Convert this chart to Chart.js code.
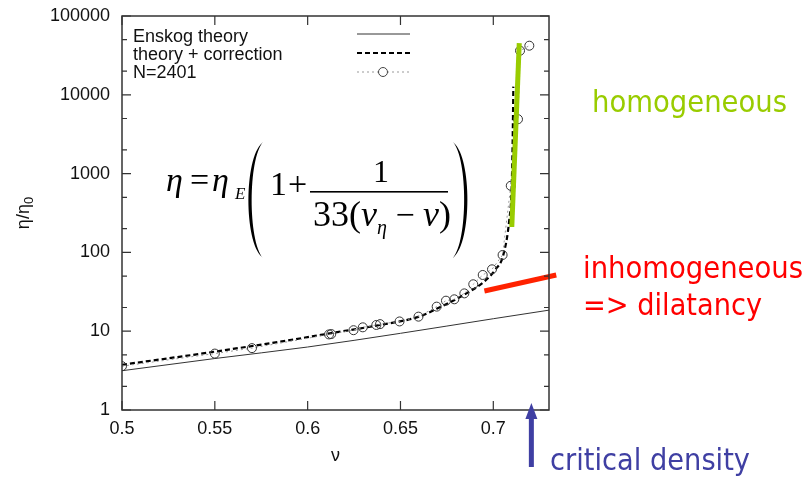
<!DOCTYPE html>
<html>
<head>
<meta charset="utf-8">
<script src="https://cdn.jsdelivr.net/npm/chart.js@4/dist/chart.umd.min.js"></script>
<style>
  body { margin: 0; background: #fff; }
</style>
</head>
<body>
<canvas id="visc" width="810" height="481"></canvas>
<script>
'use strict'

// Enskog theory
var nuEnskog  = [0.5, 0.55, 0.6, 0.65, 0.7, 0.73];
var etaEnskog = [3.15, 4.5, 6.3, 9.4, 14.4, 18.5];

// theory + correction
var nuCorr  = [0.5, 0.55, 0.6, 0.612, 0.639, 0.66, 0.67, 0.684, 0.695, 0.701, 0.7054, 0.7086, 0.7099, 0.7104, 0.7108];
var etaCorr = [3.75, 5.5, 8.4, 9.4, 12, 15.3, 19.5, 28.8, 42.5, 60, 93, 258, 682, 2400, 12700];

// N=2401 simulation
var nuSim  = [0.5, 0.55, 0.57, 0.6115, 0.6127, 0.6247, 0.6297, 0.637, 0.639, 0.6495, 0.6597, 0.6695,
              0.6745, 0.679, 0.6844, 0.6892, 0.6943, 0.6993, 0.705, 0.7094, 0.7133, 0.7144, 0.7194];
var etaSim = [3.6, 5.2, 6.1, 9.1, 9.2, 10.3, 11.2, 12.0, 12.3, 13.3, 15.3, 20.5,
              24.4, 25.4, 30.2, 39.4, 51.7, 61, 92.7, 700, 4900, 36300, 42000];

// hand-drawn guide lines
var nuHomog  = [0.70995, 0.71398];
var etaHomog = [210, 45400];
var nuInhom  = [0.6952, 0.7339];
var etaInhom = [32.4, 51.7];

var criticalDensity = 0.7205;

var xTicks = [0.5, 0.55, 0.6, 0.65, 0.7];
var yTicks = [1, 10, 100, 1000, 10000, 100000];
var yMinor = [2, 5, 20, 50, 200, 500, 2000, 5000, 20000, 50000];

function pts(xs, ys) {
  return xs.map(function (x, i) { return {x: x, y: ys[i]}; });
}

function fitText(ctx, text, x, y, width, color) {
  ctx.save();
  ctx.font = '30px "DejaVu Sans"';
  ctx.fillStyle = color;
  ctx.textAlign = 'left';
  ctx.textBaseline = 'alphabetic';
  var w = ctx.measureText(text).width;
  ctx.translate(x, y);
  ctx.scale(width / w, 1);
  ctx.fillText(text, 0, 0);
  ctx.restore();
}

function paren(ctx, x0, x1, top, bot) {
  // x0 = end of the curl, x1 = belly of the bracket
  var d = x0 < x1 ? -1 : 1;
  ctx.beginPath();
  ctx.moveTo(x0, top);
  ctx.bezierCurveTo(x1, top + 17, x1, bot - 17, x0, bot);
  ctx.lineTo(x0 - d, bot - 1);
  ctx.bezierCurveTo(x1 - 4 * d, bot - 17, x1 - 4 * d, top + 17, x0 - d, top + 1);
  ctx.closePath();
  ctx.fill();
}

var extras = {
  id: 'extras',
  afterDatasetsDraw: function (chart) {
    var ctx = chart.ctx;
    var a = chart.chartArea;
    var xs = chart.scales.x, ys = chart.scales.y;
    ctx.save();

    // frame and inward ticks
    ctx.strokeStyle = '#333';
    ctx.lineWidth = 1.5;
    ctx.strokeRect(a.left, a.top, a.right - a.left, a.bottom - a.top);
    ctx.lineWidth = 1.2;
    ctx.beginPath();
    xTicks.forEach(function (v) {
      var px = xs.getPixelForValue(v);
      ctx.moveTo(px, a.bottom); ctx.lineTo(px, a.bottom - 9);
      ctx.moveTo(px, a.top); ctx.lineTo(px, a.top + 9);
    });
    yTicks.forEach(function (v) {
      var py = ys.getPixelForValue(v);
      ctx.moveTo(a.left, py); ctx.lineTo(a.left + 9, py);
      ctx.moveTo(a.right, py); ctx.lineTo(a.right - 9, py);
    });
    yMinor.forEach(function (v) {
      var py = ys.getPixelForValue(v);
      ctx.moveTo(a.left, py); ctx.lineTo(a.left + 5, py);
      ctx.moveTo(a.right, py); ctx.lineTo(a.right - 5, py);
    });
    ctx.stroke();

    // axis titles
    ctx.fillStyle = '#111';
    ctx.font = '18px "Liberation Sans"';
    ctx.textAlign = 'center';
    ctx.textBaseline = 'middle';
    ctx.fillText('ν', (a.left + a.right) / 2, 456);
    ctx.save();
    ctx.translate(24, (a.top + a.bottom) / 2);
    ctx.rotate(-Math.PI / 2);
    ctx.font = '18px "Liberation Sans"';
    ctx.textAlign = 'left';
    var w1 = ctx.measureText('η/η').width;
    ctx.font = '13px "Liberation Sans"';
    var w2 = ctx.measureText('0').width;
    ctx.font = '18px "Liberation Sans"';
    ctx.fillText('η/η', -(w1 + w2) / 2, 0);
    ctx.font = '13px "Liberation Sans"';
    ctx.fillText('0', -(w1 + w2) / 2 + w1, 5);
    ctx.restore();

    // legend
    ctx.font = '18px "Liberation Sans"';
    ctx.textAlign = 'left';
    ctx.textBaseline = 'alphabetic';
    ctx.fillStyle = '#111';
    ctx.fillText('Enskog theory', 133, 42);
    ctx.fillText('theory + correction', 133, 60);
    ctx.fillText('N=2401', 133, 78);
    ctx.lineWidth = 1;
    ctx.strokeStyle = '#333';
    ctx.beginPath(); ctx.moveTo(357, 34); ctx.lineTo(410, 34); ctx.stroke();
    ctx.lineWidth = 2.2;
    ctx.strokeStyle = '#000';
    ctx.setLineDash([5, 3]);
    ctx.beginPath(); ctx.moveTo(357, 53); ctx.lineTo(410, 53); ctx.stroke();
    ctx.lineWidth = 1;
    ctx.strokeStyle = '#999';
    ctx.setLineDash([2, 3]);
    ctx.beginPath(); ctx.moveTo(357, 72); ctx.lineTo(410, 72); ctx.stroke();
    ctx.setLineDash([]);
    ctx.fillStyle = '#fff';
    ctx.strokeStyle = '#444';
    ctx.beginPath(); ctx.arc(383, 72, 4.5, 0, Math.PI * 2); ctx.fill(); ctx.stroke();

    // formula
    ctx.fillStyle = '#000';
    ctx.textAlign = 'left';
    ctx.textBaseline = 'alphabetic';
    ctx.font = 'italic 34px "Liberation Serif"';
    ctx.fillText('η', 166, 191);
    ctx.font = '34px "Liberation Serif"';
    ctx.fillText('=', 190, 191);
    ctx.font = 'italic 34px "Liberation Serif"';
    ctx.fillText('η', 212, 191);
    ctx.font = 'italic 17px "Liberation Serif"';
    ctx.fillText('E', 235, 199);
    paren(ctx, 263, 248, 142, 258);
    paren(ctx, 453, 468, 142, 258);
    ctx.font = '34px "Liberation Serif"';
    ctx.fillText('1', 270, 195);
    ctx.fillText('+', 288, 195);
    ctx.fillRect(310, 191, 138, 1.6);
    ctx.textAlign = 'center';
    ctx.font = '32px "Liberation Serif"';
    ctx.fillText('1', 381, 182);
    ctx.textAlign = 'left';
    var dx = 313, base = 226;
    var parts = [
      ['36px "Liberation Serif"', '33', 0],
      ['36px "Liberation Serif"', '(', 0],
      ['italic 36px "Liberation Serif"', 'ν', 0],
      ['italic 20px "Liberation Serif"', 'η', 8],
      ['34px "Liberation Serif"', ' − ', 0],
      ['italic 36px "Liberation Serif"', 'ν', 0],
      ['36px "Liberation Serif"', ')', 0]
    ];
    parts.forEach(function (p) {
      ctx.font = p[0];
      ctx.fillText(p[1], dx, base + p[2]);
      dx += ctx.measureText(p[1]).width;
    });

    // annotations
    fitText(ctx, 'homogeneous', 592, 112, 195, '#99cc00');
    fitText(ctx, 'inhomogeneous', 583, 278, 220, '#ff0000');
    fitText(ctx, '=> dilatancy', 583, 315, 179, '#ff0000');
    fitText(ctx, 'critical density', 550, 470, 200, '#3f3fa3');

    // critical density arrow
    var ax = xs.getPixelForValue(criticalDensity);
    ctx.fillStyle = '#3f3fa3';
    ctx.fillRect(ax - 2.5, 416, 5, 51);
    ctx.beginPath();
    ctx.moveTo(ax, 403);
    ctx.lineTo(ax - 6, 419);
    ctx.lineTo(ax + 6, 419);
    ctx.closePath();
    ctx.fill();

    ctx.restore();
  }
};

var ctx = document.getElementById('visc');
var mychart = new Chart(ctx, {
  type: 'line',
  data: {
    datasets: [{
      label: 'homogeneous',
      data: pts(nuHomog, etaHomog),
      borderColor: '#99cc00',
      borderWidth: 5,
      pointRadius: 0,
      clip: false,
      order: 0
    }, {
      label: 'inhomogeneous',
      data: pts(nuInhom, etaInhom),
      borderColor: '#ff2200',
      borderWidth: 5,
      pointRadius: 0,
      clip: false,
      order: 0
    }, {
      label: 'N=2401',
      data: pts(nuSim, etaSim),
      borderColor: '#999',
      borderWidth: 1,
      borderDash: [2, 3],
      pointRadius: 4.5,
      pointBorderColor: '#333',
      pointBorderWidth: 1,
      pointBackgroundColor: 'rgba(0,0,0,0)',
      order: 1
    }, {
      label: 'theory + correction',
      data: pts(nuCorr, etaCorr),
      borderColor: '#000',
      borderWidth: 2.2,
      borderDash: [5, 3],
      pointRadius: 0,
      cubicInterpolationMode: 'monotone',
      order: 2
    }, {
      label: 'Enskog theory',
      data: pts(nuEnskog, etaEnskog),
      borderColor: '#333',
      borderWidth: 1,
      pointRadius: 0,
      cubicInterpolationMode: 'monotone',
      order: 3
    }]
  },
  options: {
    responsive: false,
    animation: false,
    layout: {padding: {left: 0, right: 261, top: 16, bottom: 0}},
    plugins: {legend: {display: false}, tooltip: {enabled: false}},
    scales: {
      x: {
        type: 'linear',
        min: 0.5,
        max: 0.73,
        grid: {display: false, drawTicks: false},
        border: {display: false},
        afterBuildTicks: function (s) { s.ticks = xTicks.map(function (v) { return {value: v}; }); },
        afterFit: function (s) { s.height = 71; s.paddingLeft = 0; s.paddingRight = 0; },
        ticks: {
          padding: 8,
          color: '#111',
          font: {family: 'Liberation Sans', size: 18},
          callback: function (v) { return String(v); }
        }
      },
      y: {
        type: 'logarithmic',
        min: 1,
        max: 100000,
        grid: {display: false, drawTicks: false},
        border: {display: false},
        afterBuildTicks: function (s) { s.ticks = yTicks.map(function (v) { return {value: v}; }); },
        afterFit: function (s) { s.width = 122; s.paddingTop = 0; s.paddingBottom = 0; },
        ticks: {
          padding: 12,
          color: '#111',
          font: {family: 'Liberation Sans', size: 18},
          callback: function (v) { return String(v); }
        }
      }
    }
  },
  plugins: [extras]
});
</script>
</body>
</html>
